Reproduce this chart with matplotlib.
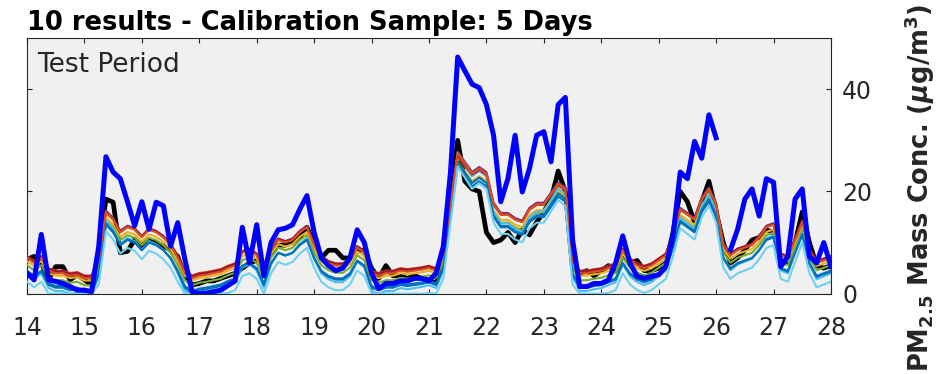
""" Test-period time series: 10 calibrated sensor results against
    the reference monitor and the raw sensor (5-day calibration sample).
"""

###########
# Imports #
###########
import numpy as np
import matplotlib
matplotlib.use('Agg')
import matplotlib.pyplot as plt


########
# Data #
########
# Day of month, 3-hour steps from day 14 to day 28
days = np.arange(14, 28.001, 0.125)

# Raw sensor (thick blue), one row per day, NaN = missing data
raw_sensor = [
    4.0, 2.7, 11.6, 2.7, 2.4, 2.0, 1.4, 0.7,        # 14
    0.7, 0.4, 9.3, 26.8, 23.8, 22.5, 18.0, 13.3,    # 15
    18.0, 12.6, 17.9, 17.2, 9.3, 13.9, 6.7, 0.4,    # 16
    0.0, 0.1, 0.4, 0.7, 1.6, 2.5, 13.0, 6.0,        # 17
    13.5, 3.5, 10.0, 12.5, 12.8, 13.5, 16.5, 19.2,  # 18
    12.0, 7.0, 5.5, 4.5, 5.0, 7.0, 12.5, 10.0,      # 19
    4.0, 1.0, 2.0, 2.0, 2.5, 2.5, 3.0, 3.0,         # 20
    2.5, 4.0, 9.3, 23.8, 46.3, 43.6, 41.0, 40.3,    # 21
    37.0, 31.0, 18.0, 22.5, 31.0, 19.9, 24.5, 31.0, # 22
    31.7, 25.8, 37.0, 38.4, 10.6, 1.4, 1.4, 2.0,    # 23
    2.0, 2.7, 6.0, 11.3, 6.0, 3.4, 3.0, 3.4,        # 24
    3.7, 5.3, 11.3, 23.8, 22.5, 29.8, 26.5, 35.0,   # 25
    30.5, np.nan, 8.6, 12.6, 18.5, 20.5, 15.2, 22.5,  # 26
    21.8, 5.3, 7.3, 18.5, 20.5, 7.3, 6.0, 10.0,     # 27
    5.3,                                            # 28
]

# Reference monitor (thick black)
reference = [
    6.7, 7.3, 6.0, 2.7, 5.3, 5.3, 2.7, 3.7,
    2.7, 1.7, 8.0, 18.5, 17.9, 8.0, 8.3, 10.6,
    9.3, 10.6, 10.0, 9.3, 8.6, 7.3, 3.4, 1.7,
    2.0, 2.5, 2.5, 3.0, 3.5, 4.0, 5.0, 6.0,
    6.5, 5.0, 8.0, 9.5, 9.5, 10.0, 11.0, 13.0,
    10.0, 7.0, 8.5, 8.5, 7.0, 7.0, 8.5, 8.5,
    5.0, 3.0, 5.5, 3.5, 3.5, 3.0, 3.5, 3.0,
    2.7, 2.0, 6.0, 18.0, 30.0, 22.0, 20.5, 20.0,
    12.0, 10.0, 10.5, 12.0, 10.0, 12.5, 11.5, 14.0,
    16.0, 18.5, 24.0, 20.0, 5.0, 4.0, 4.5, 3.5,
    4.5, 5.5, 4.5, 7.5, 6.0, 6.5, 4.5, 4.5,
    5.0, 6.0, 12.0, 20.0, 18.0, 14.0, 18.0, 22.0,
    16.0, 10.0, 6.0, 7.0, 8.5, 10.5, 11.0, 12.5,
    12.0, 6.5, 6.0, 10.0, 16.0, 10.0, 5.5, 5.0,
    5.5,
]

# Centre of the band of calibrated results
calibrated_mid = [
    6.5, 5.5, 6.5, 4.0, 3.5, 3.5, 3.0, 3.2,
    2.5, 2.5, 6.0, 15.5, 14.0, 11.5, 12.5, 12.0,
    10.5, 12.0, 11.5, 10.5, 9.0, 6.5, 3.5, 2.5,
    3.0, 3.2, 3.5, 3.8, 4.5, 5.0, 7.5, 8.0,
    7.0, 4.0, 8.0, 10.0, 9.5, 10.0, 11.5, 12.5,
    9.0, 6.5, 5.5, 5.0, 5.0, 6.0, 8.5, 7.5,
    3.5, 3.0, 3.5, 3.5, 4.0, 3.8, 4.0, 4.2,
    4.5, 4.0, 7.0, 17.0, 27.0, 25.0, 23.0, 24.0,
    23.0, 17.0, 15.0, 15.0, 14.0, 13.5, 16.0, 17.0,
    17.0, 19.0, 21.0, 20.0, 6.0, 3.5, 3.5, 3.8,
    4.0, 4.5, 5.0, 8.0, 6.0, 5.0, 4.5, 5.0,
    6.0, 7.0, 11.0, 16.0, 15.0, 14.0, 18.0, 20.0,
    17.0, 9.0, 7.0, 8.0, 8.5, 9.0, 10.5, 12.5,
    13.0, 7.0, 6.5, 10.0, 13.5, 8.0, 5.5, 6.0,
    6.5,
]

# How each of the 10 results sits relative to the band centre
result_gain = [1.00, 0.95, 0.95, 1.00, 0.98, 1.15, 0.97, 1.05, 1.00, 1.10]
result_offset = [-2.0, 1.2, 0.2, 0.8, -0.8, -3.5, 1.0, -2.5, 0.5, -4.8]

x_ticks = list(range(14, 29))
y_ticks = [0, 20, 40]


##################
# Plot styling   #
##################
plt.rcParams['font.family'] = ['DejaVu Sans']
plt.rcParams['mathtext.fontset'] = 'custom'
plt.rcParams['mathtext.rm'] = 'DejaVu Sans:bold'
plt.rcParams['mathtext.it'] = 'DejaVu Sans:italic:bold'
plt.rcParams['mathtext.bf'] = 'DejaVu Sans:bold'

axis_grey = '#262626'
result_colors = ['#0072bd', '#d95319', '#edb120', '#7e2f8e', '#77ac30',
                 '#4dbeee', '#a2142f', '#0072bd', '#d95319', '#6fd0f2']


############
# Plotting #
############
fig = plt.figure(figsize=(9.4, 3.74), dpi=100)
ax = fig.add_axes([0.0287, 0.2147, 0.8553, 0.6833])
ax.set_facecolor('#f0f0f0')

# Reference monitor underneath
ax.plot(days, reference, color='black', lw=3.4, zorder=2)

# 10 calibrated results
mid = np.array(calibrated_mid)
for gain, offset, color in zip(result_gain, result_offset, result_colors):
    ax.plot(days, np.clip(mid * gain + offset, 0, None),
            color=color, lw=1.5, zorder=3)

# Raw sensor on top
ax.plot(days, raw_sensor, color='#0000ff', lw=3.6, zorder=4)

ax.set(xlim=(14, 28), ylim=(0, 50), xticks=x_ticks, yticks=y_ticks)
ax.tick_params(axis='both', direction='in', top=True, right=True,
               length=3.6, width=0.8, color=axis_grey,
               labelcolor=axis_grey, labelsize=17)
ax.tick_params(axis='x', pad=16)
ax.tick_params(axis='y', labelleft=False, labelright=True, pad=8)
for spine in ax.spines.values():
    spine.set_color(axis_grey)
    spine.set_linewidth(0.8)

ax.text(0.012, 0.868, 'Test Period', transform=ax.transAxes,
        fontsize=19, color=axis_grey, va='baseline', ha='left')

fig.text(27 / 940, 1 - 30 / 374, '10 results - Calibration Sample: 5 Days',
         fontsize=18.5, fontweight='bold', va='baseline', ha='left')

fig.text(920 / 940, 2 / 374,
         r'PM$_{2.5}$ Mass Conc. ($\mu$g/m$^3$)',
         fontsize=18.5, fontweight='bold', color=axis_grey,
         rotation=90, ha='center', va='bottom')

plt.savefig('out.png', dpi=100)
